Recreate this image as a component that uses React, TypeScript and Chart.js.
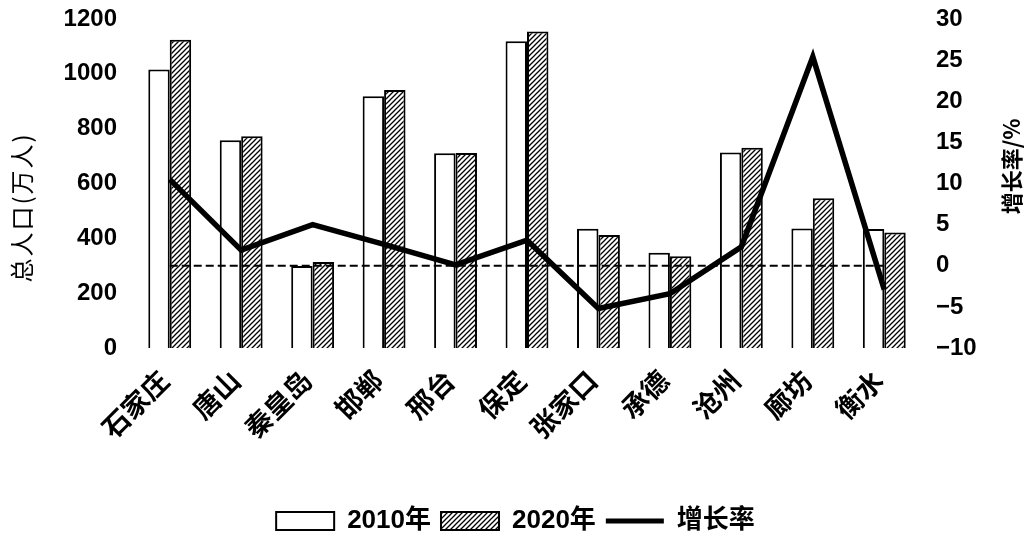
import React, { useEffect, useRef } from "react";
import { Chart, registerables } from "chart.js";

Chart.register(...registerables);

const categories = ["石家庄", "唐山", "秦皇岛", "邯郸", "邢台", "保定", "张家口", "承德", "沧州", "廊坊", "衡水"];
const pop2010 = [1016, 758, 299, 918, 710, 1119, 435, 347, 713, 436, 434];
const pop2020 = [1124, 772, 314, 941, 711, 1154, 412, 335, 730, 546, 421];
const growthRate = [10.5, 1.9, 5.0, 2.6, 0.1, 3.1, -5.2, -3.4, 2.3, 25.4, -2.9];
const zeroLine = [0, 0, 0, 0, 0, 0, 0, 0, 0, 0, 0];

const leftTicks = { min: 0, max: 1200, step: 200 };
const rightTicks = { min: -10, max: 30, step: 5 };

const legendNames = ["2010年", "2020年", "增长率"];
const leftTitle = "总人口(万人)";
const rightTitle = "增长率/%";

const NUM_FONT = '"Liberation Sans", Arial, sans-serif';
const CJK_FONT = '"Noto Sans CJK SC", "Liberation Sans", sans-serif';
const LEGEND_FONT = '"Liberation Sans Narrow", "Liberation Sans", "Noto Sans CJK SC", sans-serif';

function makeHatch(): CanvasPattern | string {
  const size = 5;
  const c = document.createElement("canvas");
  c.width = size;
  c.height = size;
  const ctx = c.getContext("2d");
  if (!ctx) return "#fff";
  ctx.fillStyle = "#fff";
  ctx.fillRect(0, 0, size, size);
  ctx.strokeStyle = "#000";
  ctx.lineWidth = 1.3;
  ctx.beginPath();
  ctx.moveTo(-1, size + 1);
  ctx.lineTo(size + 1, -1);
  ctx.moveTo(-1, 1);
  ctx.lineTo(1, -1);
  ctx.moveTo(size - 1, size + 1);
  ctx.lineTo(size + 1, size - 1);
  ctx.stroke();
  return ctx.createPattern(c, "repeat") || "#fff";
}

const axisTitlesPlugin = {
  id: "axisTitles",
  afterDraw(chart: any) {
    const ctx: CanvasRenderingContext2D = chart.ctx;
    const area = chart.chartArea;
    ctx.save();
    ctx.fillStyle = "#000";
    ctx.textAlign = "center";
    ctx.textBaseline = "middle";
    // left title
    ctx.save();
    ctx.translate(22, (area.top + area.bottom) / 2 + 24);
    ctx.rotate(-Math.PI / 2);
    ctx.font = `400 24px ${CJK_FONT}`;
    (ctx as any).letterSpacing = "2px";
    ctx.fillText(leftTitle, 0, 0);
    ctx.restore();
    // right title
    ctx.save();
    ctx.translate(1012, (area.top + area.bottom) / 2 - 17);
    ctx.rotate(-Math.PI / 2);
    ctx.font = `700 22px ${CJK_FONT}`;
    ctx.fillText(rightTitle, 0, 0);
    ctx.restore();
    ctx.restore();
  },
};

const noVerticalOverhang = (width: number) => (scale: any) => {
  scale.width = width;
  scale.paddingTop = 0;
  scale.paddingBottom = 0;
};

export default function App() {
  const canvasRef = useRef<HTMLCanvasElement | null>(null);

  useEffect(() => {
    const canvas = canvasRef.current;
    if (!canvas) return;
    const hatch = makeHatch();

    const chart = new Chart(canvas, {
      type: "bar",
      data: {
        labels: categories,
        datasets: [
          {
            type: "line",
            label: "增长率",
            data: growthRate,
            yAxisID: "y1",
            borderColor: "#000",
            backgroundColor: "#000",
            borderWidth: 5.5,
            pointRadius: 0,
            tension: 0,
            order: 0,
          } as any,
          {
            type: "line",
            label: "zero",
            data: zeroLine,
            yAxisID: "y1",
            borderColor: "#000",
            borderWidth: 2,
            borderDash: [8, 4],
            pointRadius: 0,
            tension: 0,
            order: 1,
          } as any,
          {
            type: "bar",
            label: legendNames[0],
            data: pop2010,
            yAxisID: "y",
            backgroundColor: "#fff",
            borderColor: "#000",
            borderWidth: 2,
            categoryPercentage: 0.6,
            barPercentage: 1,
            order: 2,
          },
          {
            type: "bar",
            label: legendNames[1],
            data: pop2020,
            yAxisID: "y",
            backgroundColor: hatch as any,
            borderColor: "#000",
            borderWidth: 2,
            categoryPercentage: 0.6,
            barPercentage: 1,
            order: 2,
          },
        ],
      },
      options: {
        animation: false,
        responsive: true,
        maintainAspectRatio: false,
        layout: { padding: { left: 0, right: 0, top: 19, bottom: -10 } },
        plugins: {
          tooltip: { enabled: false },
          legend: {
            position: "bottom",
            labels: {
              usePointStyle: true,
              pointStyleWidth: 58,
              boxHeight: 18,
              padding: 10,
              color: "#000",
              font: { family: LEGEND_FONT, size: 26, weight: "bold" },
              generateLabels: () => [
                { text: legendNames[0], fillStyle: "#fff", strokeStyle: "#000", lineWidth: 2, pointStyle: "rect", datasetIndex: 2, hidden: false, fontColor: "#000" },
                { text: legendNames[1], fillStyle: hatch as any, strokeStyle: "#000", lineWidth: 2, pointStyle: "rect", datasetIndex: 3, hidden: false, fontColor: "#000" },
                { text: legendNames[2], fillStyle: "#000", strokeStyle: "#000", lineWidth: 5, pointStyle: "line", datasetIndex: 0, hidden: false, fontColor: "#000" },
              ] as any,
            },
          },
        },
        scales: {
          x: {
            type: "category",
            offset: true,
            grid: { display: false, drawTicks: false },
            border: { display: false },
            ticks: {
              autoSkip: false,
              minRotation: 45,
              maxRotation: 45,
              padding: 16,
              labelOffset: -6,
              color: "#000",
              font: { family: CJK_FONT, size: 27, weight: "bold" },
            },
            afterFit: (scale: any) => {
              scale.height = 150;
            },
          },
          y: {
            position: "left",
            min: leftTicks.min,
            max: leftTicks.max,
            grid: { display: false, drawTicks: false },
            border: { display: false },
            ticks: {
              stepSize: leftTicks.step,
              padding: 17,
              color: "#000",
              font: { family: NUM_FONT, size: 24, weight: "bold" },
              callback: (v: any) => String(v),
            },
            afterFit: noVerticalOverhang(134),
          },
          y1: {
            position: "right",
            min: rightTicks.min,
            max: rightTicks.max,
            grid: { display: false, drawTicks: false },
            border: { display: false },
            ticks: {
              stepSize: rightTicks.step,
              padding: 16,
              color: "#000",
              font: { family: NUM_FONT, size: 24, weight: "bold" },
              callback: (v: any) => (Number(v) < 0 ? "\u2212" + Math.abs(Number(v)) : String(v)),
            },
            afterFit: noVerticalOverhang(111),
          },
        },
      },
      plugins: [axisTitlesPlugin],
    });

    return () => chart.destroy();
  }, []);

  return (
    <div style={{ position: "fixed", left: 0, top: 0, width: 1031, height: 534, background: "#fff" }}>
      <canvas ref={canvasRef} />
    </div>
  );
}
